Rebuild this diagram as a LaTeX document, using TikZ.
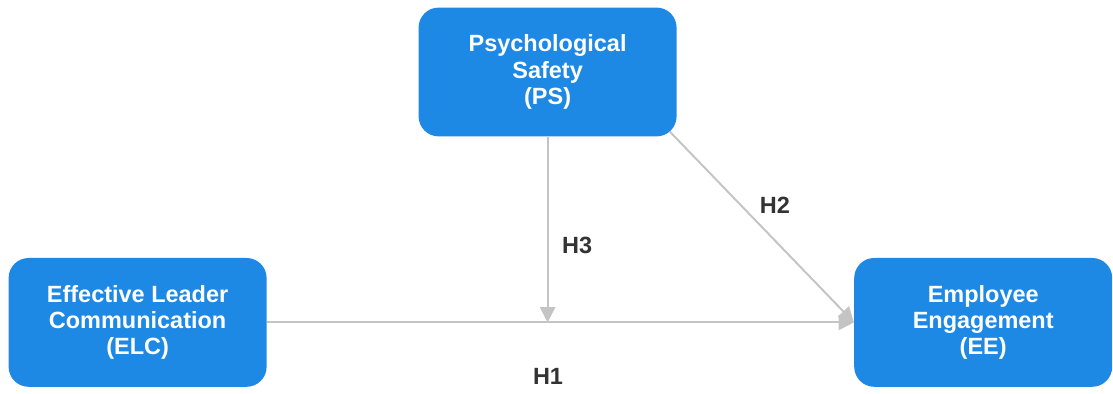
\documentclass[tikz,border=0pt]{standalone}
\usepackage{fontspec}
\setmainfont{Liberation Sans}
\usetikzlibrary{arrows.meta}
\definecolor{boxblue}{RGB}{30,137,229}
\definecolor{linegray}{RGB}{196,196,196}
\definecolor{labelgray}{RGB}{51,51,51}
\tikzset{
  varbox/.style={fill=boxblue, rounded corners=0.5cm, minimum width=6.45cm,
    minimum height=3.22cm, align=center, text=white,
    font=\fontsize{16.7}{18.6}\selectfont\bfseries},
  link/.style={line width=1.4pt, draw=linegray,
    -{Triangle[length=0.38cm, width=0.38cm, fill=linegray]}},
  hyp/.style={text=labelgray, font=\fontsize{16.7}{18.6}\selectfont\bfseries}
}

\begin{document}
\begin{tikzpicture}
\useasboundingbox (0,0) rectangle (27.825,9.85);
\node [varbox] (ps) at (13.69,8.05) {Psychological\\Safety\\(PS)};
\node [varbox] (elc) at (3.44,1.79) {Effective Leader\\Communication\\(ELC)};
\node [varbox] (ee) at (24.58,1.79) {Employee\\Engagement\\(EE)};
\coordinate (mid) at (ps.south |- elc.east);
\draw [link] (elc.east) -- (ee.west);
\draw [link] (ps.south) -- (mid);
\draw [link] ([xshift=-0.18cm, yshift=0.13cm]ps.south east) -- (ee.west);
\node [hyp] (h1) at (13.7,0.43) {H1};
\node [hyp] (h2) at (19.37,4.72) {H2};
\node [hyp] (h3) at (14.43,3.72) {H3};
\end{tikzpicture}
\end{document}
